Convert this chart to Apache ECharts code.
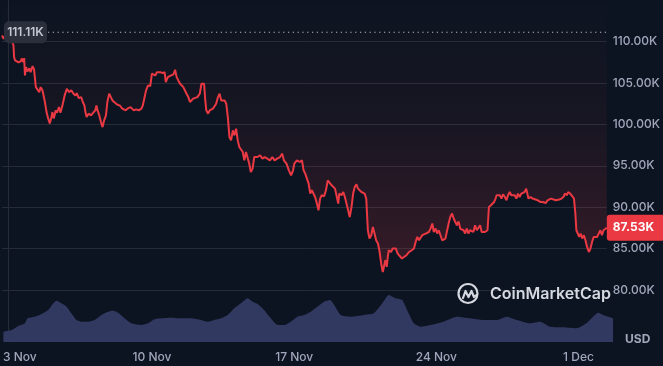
<!DOCTYPE html>
<html>
<head>
<meta charset="utf-8">
<script src="https://cdn.jsdelivr.net/npm/echarts@6/dist/echarts.min.js"></script>
<style>
html,body{margin:0;padding:0;background:#0d1421;}
#c{width:663px;height:366px;}
</style>
</head>
<body>
<div id="c"></div>
<script>
// Days since 3 Nov 00:00 and BTC price (thousands USD)
const priceDays = [-0.32,-0.24,-0.08,0.06,0.17,0.25,0.28,0.33,0.50,0.61,0.66,0.74,0.78,0.82,0.87,0.94,1.04,1.10,1.20,1.27,1.32,1.36,1.43,1.53,1.60,1.69,1.76,1.81,1.89,1.97,2.05,2.14,2.18,2.25,2.35,2.41,2.51,2.58,2.68,2.79,2.90,3.00,3.12,3.23,3.33,3.39,3.49,3.61,3.69,3.77,3.82,3.88,3.98,4.10,4.21,4.31,4.37,4.42,4.51,4.59,4.67,4.75,4.84,4.91,5.00,5.08,5.16,5.29,5.41,5.52,5.65,5.73,5.82,5.95,6.06,6.14,6.22,6.34,6.47,6.60,6.67,6.76,6.83,6.93,7.04,7.12,7.21,7.29,7.37,7.45,7.54,7.65,7.75,7.81,7.91,7.98,8.08,8.19,8.27,8.35,8.43,8.52,8.60,8.68,8.76,8.84,8.93,9.01,9.09,9.17,9.25,9.38,9.50,9.58,9.66,9.71,9.77,9.82,9.91,9.99,10.07,10.15,10.24,10.31,10.40,10.48,10.56,10.64,10.73,10.81,10.89,10.97,11.05,11.14,11.22,11.30,11.38,11.46,11.54,11.63,11.71,11.79,11.87,11.95,12.03,12.12,12.20,12.28,12.36,12.49,12.61,12.72,12.85,12.98,13.10,13.21,13.34,13.48,13.59,13.67,13.80,13.92,14.03,14.13,14.19,14.32,14.46,14.57,14.65,14.73,14.90,14.98,15.06,15.14,15.22,15.31,15.39,15.47,15.55,15.67,15.76,15.85,15.93,16.04,16.13,16.21,16.29,16.37,16.42,16.53,16.62,16.70,16.78,16.86,16.94,17.03,17.11,17.19,17.27,17.35,17.43,17.52,17.60,17.68,17.76,17.84,17.92,18.01,18.09,18.17,18.25,18.34,18.41,18.50,18.58,18.66,18.71,18.78,18.83,18.88,18.99,19.07,19.15,19.23,19.32,19.40,19.53,19.64,19.76,19.89,20.02,20.13,20.21,20.30,20.38,20.46,20.54,20.62,20.71,20.79,20.87,20.95,21.04,21.11,21.20,21.28,21.36,21.44,21.53,21.61,21.69,21.77,21.85,21.93,22.02,22.10,22.18,22.26,22.34,22.43,22.51,22.59,22.67,22.75,22.83,22.91,23.00,23.08,23.16,23.25,23.32,23.41,23.49,23.57,23.65,23.74,23.78,23.85,23.95,24.01,24.11,24.18,24.23,24.31,24.39,24.47,24.55,24.64,24.72,24.80,24.88,24.96,25.04,25.13,25.21,25.29,25.37,25.46,25.53,25.62,25.70,25.75,25.81,25.91,26.02,26.11,26.27,26.40,26.51,26.68,26.76,26.84,26.93,27.01,27.17,27.34,27.45,27.55,27.62,27.72,27.78,27.88,27.99,28.07,28.14,28.19,28.27,28.33,28.40,28.48,28.56,28.64,28.72,28.81,28.89,28.97,29.05,29.14,29.22,29.30,29.38,29.46,29.54,29.62,29.70];
const prices = [110.72,110.33,111.11,110.60,110.12,109.52,108.11,107.71,107.47,107.59,107.95,107.51,107.99,105.90,106.90,106.39,106.75,106.30,107.02,106.63,106.51,104.49,104.34,103.89,104.49,104.10,103.89,102.69,101.48,100.72,100.12,100.88,101.48,100.72,101.69,101.41,102.08,101.41,102.29,103.49,104.30,103.89,104.10,103.70,103.49,103.77,103.17,103.29,102.69,102.29,101.48,100.88,101.29,101.08,101.41,101.69,102.29,101.69,101.08,100.28,99.67,100.48,101.08,102.69,103.70,103.49,102.89,102.61,102.37,102.29,101.89,102.08,101.69,101.96,102.08,101.89,101.69,101.81,101.69,101.89,102.29,103.29,104.10,104.70,104.61,106.11,106.30,105.90,106.30,106.18,106.30,106.18,106.30,105.10,105.70,105.51,105.90,106.02,106.59,105.70,105.30,104.90,105.10,104.49,104.30,103.70,103.29,102.69,102.89,103.10,103.10,103.29,103.70,104.90,104.98,104.90,102.89,101.69,101.29,101.69,101.48,101.89,102.08,102.49,103.29,103.70,102.89,103.10,102.89,102.49,100.88,98.47,98.07,99.28,98.67,99.48,98.07,97.27,97.07,96.66,95.66,96.66,96.87,95.27,94.25,94.66,96.06,96.27,96.06,96.27,95.87,96.06,95.87,95.66,96.06,95.66,95.87,96.06,96.47,95.66,95.27,94.46,93.86,94.46,95.27,95.66,95.46,95.66,94.46,94.06,92.86,91.65,92.05,91.84,91.24,90.45,89.64,91.05,91.45,91.33,92.05,93.25,93.05,92.65,92.86,92.25,92.05,90.45,91.65,91.45,91.84,91.24,91.45,89.64,88.83,90.04,91.65,92.45,92.77,92.25,92.05,91.84,91.96,91.65,91.05,87.23,86.23,86.63,87.63,86.83,86.02,85.63,84.82,83.22,82.20,82.41,83.61,82.81,84.01,84.82,84.61,85.02,84.82,85.02,84.42,84.22,83.82,84.01,84.22,84.61,84.82,85.02,85.82,86.42,86.02,86.23,86.63,86.42,86.83,86.63,87.02,87.43,88.04,87.02,87.43,86.83,87.23,87.02,86.02,85.82,86.23,86.02,88.04,88.83,89.24,88.64,88.23,87.83,88.30,87.40,87.43,87.23,86.83,87.43,86.83,87.23,87.43,87.02,87.83,87.23,87.43,87.83,87.02,86.83,87.02,86.83,87.23,90.04,90.24,90.24,90.64,91.05,91.45,91.24,91.45,91.05,91.57,91.24,90.84,91.45,91.84,91.45,91.24,91.45,91.05,91.65,91.24,91.65,91.45,91.84,92.25,92.45,91.05,91.24,91.05,91.05,90.84,90.64,90.64,90.52,90.84,90.64,91.05,90.84,90.84,90.93,91.05,91.24,91.65,91.45,91.84,91.65,91.33,91.05,89.24,87.23,87.02,86.42,86.83,86.23,86.63,86.02,85.22,84.61,85.02,85.82,86.42,86.63,86.42,86.83,87.23,86.63,87.23,87.43,87.53];

// 24h volume (billions USD)
const volumeDays = [-0.32,0.09,0.42,0.74,0.87,1.23,1.56,1.89,2.14,2.30,2.54,2.79,3.03,3.28,3.53,3.85,4.18,4.51,4.84,5.08,5.33,5.65,5.98,6.47,6.80,7.12,7.45,7.94,8.43,8.92,9.42,9.74,10.07,10.40,10.73,11.05,11.38,11.71,11.95,12.20,12.52,12.85,13.18,13.51,13.83,14.16,14.49,14.82,15.14,15.47,15.76,16.29,16.78,17.43,17.92,18.34,18.66,18.99,19.32,19.56,19.89,20.22,20.71,21.36,22.02,22.67,23.32,23.98,24.47,24.96,25.62,26.11,26.60,27.25,27.90,28.39,28.72,28.97,29.22,29.54,29.70];
const volumes = [20.6,24,32,37.4,47.4,50.6,56,64,77.4,82.6,77.4,70.6,57.4,44,40.6,40.6,44,54,60.6,62.6,58.6,47.4,37.4,34,37.4,45.4,47.4,48.6,47.4,47.4,44,40.6,44,47.4,54,67.4,77.4,87.4,80.6,76,64,47.4,34,34,40.6,50.6,54,60.6,70.6,80.6,84,54,50.6,54,57.4,77.4,94,87.4,84,64,37.4,30.6,34,40.6,50.6,47.4,44,44,50.6,44,37.4,40.6,30.6,29.4,27.4,37.4,50.6,58.6,54,49.4,47.4];

const xTickDays = [0, 7, 14, 21, 28];
const xTickLabels = ['3 Nov', '10 Nov', '17 Nov', '24 Nov', '1 Dec'];
const yTicks = [80, 85, 90, 95, 100, 105, 110];
const currencyLabel = 'USD';
const brandName = 'CoinMarketCap';

const FONT = 'Inter, "Noto Sans", sans-serif';
const RED = '#ea3943';
const chart = echarts.init(document.getElementById('c'), null, {renderer: 'canvas'});

const priceData = priceDays.map((d, i) => [d, prices[i]]);
const volData = volumeDays.map((d, i) => [d, volumes[i]]);
const xMin = priceDays[0], xMax = priceDays[priceDays.length - 1];

chart.setOption({
  backgroundColor: '#0d1421',
  animation: false,
  grid: [
    {left: 2, right: 50, top: 0, bottom: 24},
    {left: 2, right: 50, top: 282, bottom: 24}
  ],
  xAxis: [
    {type: 'value', gridIndex: 0, min: xMin, max: xMax,
     axisLine: {show: false}, axisTick: {show: false}, splitLine: {show: false},
     axisLabel: {show: false}},
    {type: 'value', gridIndex: 1, min: xMin, max: xMax,
     axisLine: {show: false}, axisTick: {show: false, customValues: xTickDays}, splitLine: {show: false},
     axisLabel: {
       show: true, customValues: xTickDays, margin: 9,
       color: '#a1a7bb', fontFamily: FONT, fontSize: 12, fontWeight: 500,
       formatter: function (v) {
         const i = xTickDays.indexOf(Math.round(v));
         if (i < 0) return '';
         return i === 0 ? '{first|' + xTickLabels[i] + '}' : xTickLabels[i];
       },
       rich: {first: {padding: [0, 0, 0, 20], color: '#a1a7bb', fontFamily: FONT, fontSize: 12, fontWeight: 500}}
     }}
  ],
  yAxis: [
    {type: 'value', gridIndex: 0, position: 'right', min: 73.75, max: 115,
     axisLine: {show: true, lineStyle: {color: '#262b38', width: 1}},
     axisTick: {show: false, customValues: yTicks},
     splitLine: {show: true, lineStyle: {color: '#262b38', width: 1}},
     axisLabel: {customValues: yTicks, margin: 6, color: '#a1a7bb', fontFamily: FONT, fontSize: 12, fontWeight: 500,
       formatter: v => v.toFixed(2) + 'K'}},
    {type: 'value', gridIndex: 1, min: 0, max: 120, show: false}
  ],
  series: [
    {
      type: 'line', xAxisIndex: 1, yAxisIndex: 1, data: volData, symbol: 'none', smooth: 0.2,
      lineStyle: {width: 0},
      areaStyle: {color: '#313960', opacity: 1},
      z: 1
    },
    {
      type: 'line', xAxisIndex: 0, yAxisIndex: 0, data: priceData, symbol: 'none',
      lineStyle: {color: RED, width: 2},
      areaStyle: {
        origin: 'end',
        color: new echarts.graphic.LinearGradient(0, 0, 0, 1, [
          {offset: 0, color: 'rgba(234,57,67,0)'},
          {offset: 0.45, color: 'rgba(234,57,67,0.07)'},
          {offset: 1, color: 'rgba(234,57,67,0.27)'}
        ])
      },
      z: 3
    }
  ]
});

// overlays positioned through the axes
const hi = Math.max.apply(null, prices);
const last = prices[prices.length - 1];
const yHi = chart.convertToPixel({yAxisIndex: 0}, hi);
const yLast = chart.convertToPixel({yAxisIndex: 0}, last);
const xRight = chart.convertToPixel({xAxisIndex: 0}, xMax);
const yBottom = chart.convertToPixel({yAxisIndex: 1}, 0);

chart.setOption({
  graphic: [
    {type: 'line', z: 20, shape: {x1: 48, y1: yHi, x2: xRight, y2: yHi},
     style: {stroke: '#b7bcc8', lineWidth: 1.2, lineDash: [1.2, 3.6]}},
    {type: 'rect', z: 21, shape: {x: 4, y: yHi - 11, width: 43, height: 22, r: 5},
     style: {fill: '#2a2f3b'}},
    {type: 'text', z: 22, x: 25.5, y: yHi + 0.5, style: {text: hi.toFixed(2) + 'K', fill: '#c3c7d1',
      font: '600 12px ' + FONT, align: 'center', verticalAlign: 'middle'}},
    {type: 'rect', z: 21, shape: {x: xRight, y: yLast - 13, width: 663 - xRight, height: 26, r: [3, 0, 0, 3]},
     style: {fill: RED}},
    {type: 'text', z: 22, x: xRight + 6, y: yLast, style: {text: last.toFixed(2) + 'K', fill: '#ffffff',
      font: '700 12px ' + FONT, align: 'left', verticalAlign: 'middle'}},
    {type: 'text', z: 22, x: 625, y: yBottom - 3, style: {text: currencyLabel, fill: '#a1a7bb',
      font: '700 12px ' + FONT, align: 'left', verticalAlign: 'middle'}},
    {type: 'group', z: 15, x: 458, y: 283, children: [
      {type: 'circle', shape: {cx: 10, cy: 10.5, r: 9.5}, style: {fill: 'none', stroke: '#d6d9e0', lineWidth: 2.2}},
      {type: 'polyline', shape: {points: [[5, 15], [7.5, 8], [10.5, 14], [13.5, 8], [16, 14], [18.5, 12]]},
       style: {fill: 'none', stroke: '#d6d9e0', lineWidth: 2.2, lineJoin: 'round', lineCap: 'round'}}
    ]},
    {type: 'text', z: 15, x: 490, y: 294, style: {text: brandName, fill: '#d6d9e0',
      font: '600 16px ' + FONT, align: 'left', verticalAlign: 'middle'}}
  ]
});
</script>
</body>
</html>
